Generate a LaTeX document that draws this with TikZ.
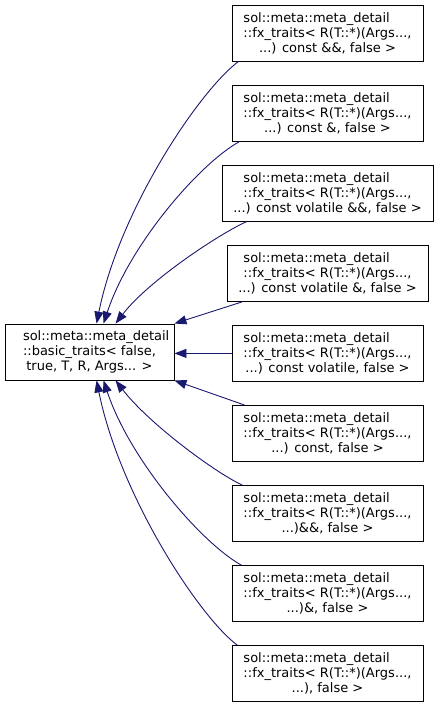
\documentclass[tikz,border=0pt]{standalone}
\usepackage{fontspec}
\setmainfont{DejaVu Sans}
\usetikzlibrary{arrows.meta}
\definecolor{edgecol}{HTML}{191970}
\newcommand\LeftPair[2]{\rlap{#1}\phantom{#2}\\#2}
\begin{document}
\begin{tikzpicture}[x=1pt,y=-1pt,
  box/.style={draw=black,line width=0.9pt,fill=white,inner sep=0pt,minimum height=56pt,align=center,font=\fontsize{13}{15}\selectfont},
  edge/.style={draw=edgecol,line width=0.9pt,-{Triangle[length=12pt,width=9pt]}}]
\useasboundingbox (0,0) rectangle (439,707);
\node[box,minimum width=169pt] (L) at (89.5,352) {\LeftPair{sol::meta::meta\_detail}{::basic\_traits< false,}\\true, T, R, Args... >};
\node[box,minimum width=191pt] (r1) at (327.5,33) {\LeftPair{sol::meta::meta\_detail}{::fx\_traits< R(T::*)(Args...,}\\...) const \&\&, false >};
\node[box,minimum width=191pt] (r2) at (327.5,113.1) {\LeftPair{sol::meta::meta\_detail}{::fx\_traits< R(T::*)(Args...,}\\...) const \&, false >};
\node[box,minimum width=211pt] (r3) at (327.5,193.2) {\LeftPair{sol::meta::meta\_detail}{::fx\_traits< R(T::*)(Args...,}\\...) const volatile \&\&, false >};
\node[box,minimum width=201pt] (r4) at (327.5,273.3) {\LeftPair{sol::meta::meta\_detail}{::fx\_traits< R(T::*)(Args...,}\\...) const volatile \&, false >};
\node[box,minimum width=191pt] (r5) at (327.5,353.4) {\LeftPair{sol::meta::meta\_detail}{::fx\_traits< R(T::*)(Args...,}\\...) const volatile, false >};
\node[box,minimum width=191pt] (r6) at (327.5,433.5) {\LeftPair{sol::meta::meta\_detail}{::fx\_traits< R(T::*)(Args...,}\\...) const, false >};
\node[box,minimum width=191pt] (r7) at (327.5,513.6) {\LeftPair{sol::meta::meta\_detail}{::fx\_traits< R(T::*)(Args...,}\\...)\&\&, false >};
\node[box,minimum width=191pt] (r8) at (327.5,593.7) {\LeftPair{sol::meta::meta\_detail}{::fx\_traits< R(T::*)(Args...,}\\...)\&, false >};
\node[box,minimum width=191pt] (r9) at (327.5,673.8) {\LeftPair{sol::meta::meta\_detail}{::fx\_traits< R(T::*)(Args...,}\\...), false >};
\draw[edge] ([shift={(7,0)}]r1.south west) .. controls +(-39,29) and +(23,-114) .. ([shift={(92,0)}]L.north west);
\draw[edge] ([shift={(8,0)}]r2.south west) .. controls +(-40,22) and +(26,-79) .. ([shift={(99,0)}]L.north west);
\draw[edge] ([shift={(25,0)}]r3.south west) .. controls +(-25,11) and +(34,-44) .. ([shift={(111,0)}]L.north west);
\draw[edge] ([shift={(16,0)}]r4.south west) -- (L.north east);
\draw[edge] (r5.west) -- (r5.west -| L.east);
\draw[edge] ([shift={(13,0)}]r6.north west) -- (L.south east);
\draw[edge] ([shift={(11,0)}]r7.north west) .. controls +(-25,-11) and +(34,44) .. ([shift={(111,0)}]L.south west);
\draw[edge] ([shift={(10,0)}]r8.north west) .. controls +(-40,-22) and +(26,79) .. ([shift={(99,0)}]L.south west);
\draw[edge] ([shift={(6,0)}]r9.north west) .. controls +(-39,-29) and +(23,114) .. ([shift={(92,0)}]L.south west);
\end{tikzpicture}
\end{document}
